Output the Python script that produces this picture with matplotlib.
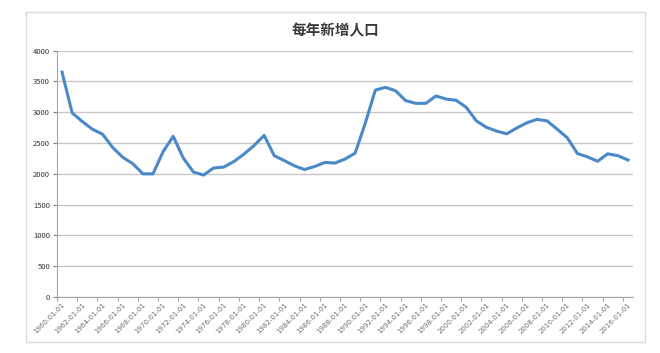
import matplotlib
matplotlib.use('Agg')
import numpy as np
from matplotlib import pyplot as plt
from matplotlib.patches import Rectangle

plt.rcParams['font.family'] = ['Noto Sans CJK SC', 'DejaVu Sans']

# data
years = list(range(1960, 2017))
new_people = [3650, 2990, 2850, 2725, 2645, 2430, 2270, 2165, 2000, 2000,
              2360, 2610, 2255, 2030, 1980, 2095, 2110, 2200, 2320, 2460,
              2625, 2295, 2215, 2130, 2070, 2120, 2185, 2175, 2240, 2335,
              2820, 3360, 3405, 3350, 3190, 3145, 3145, 3265, 3215, 3195,
              3080, 2860, 2755, 2695, 2650, 2745, 2830, 2885, 2860, 2725,
              2585, 2330, 2275, 2205, 2325, 2295, 2225]
tick_labels = ['%d-01-01' % y for y in years]

fig = plt.figure(figsize=(6.6, 3.53), dpi=100)
fig.patch.set_facecolor('white')

# outer chart border
fig.patches.append(Rectangle((26 / 660, 1 - 342 / 353), (645 - 26) / 660, (342 - 12) / 353,
                             transform=fig.transFigure, fill=False,
                             edgecolor='#d9d9d9', linewidth=1.0))

ax = fig.add_axes([57 / 660, 1 - 297 / 353, (633 - 57) / 660, (297 - 50.7) / 353])
x = np.arange(len(years))
ax.plot(x, new_people, color='#4a88c9', linewidth=2.2, solid_joinstyle='round')

ax.set_xlim(-0.5, len(years) - 0.5)
ax.set_ylim(0, 4000)
ax.set_yticks(range(0, 4001, 500))
ax.tick_params(axis='y', labelsize=5.5, colors='#7f7f7f', labelcolor='#333333',
               length=3, width=0.8, pad=2)

ax.set_xticks(x[::2])
ax.set_xticklabels(tick_labels[::2], rotation=45, ha='right', rotation_mode='anchor',
                   fontsize=5, color='#6b6f7a', family='DejaVu Sans')
ax.tick_params(axis='x', which='major', length=0, pad=3)
ax.set_xticks(np.arange(-0.5, len(years), 2), minor=True)
ax.tick_params(axis='x', which='minor', length=3, width=0.8, color='#a6a6a6')

ax.grid(axis='y', color='#c8c8c8', linewidth=1.0)
ax.set_axisbelow(True)
for side in ['top', 'right']:
    ax.spines[side].set_visible(False)
ax.spines['left'].set_color('#a6a6a6')
ax.spines['bottom'].set_color('#a6a6a6')

fig.text(335 / 660, 1 - 30 / 353, '每年新增人口', ha='center', va='center',
         fontsize=10.5, fontweight='bold', color='#3a3a3a')

fig.savefig('out.png', dpi=100)
